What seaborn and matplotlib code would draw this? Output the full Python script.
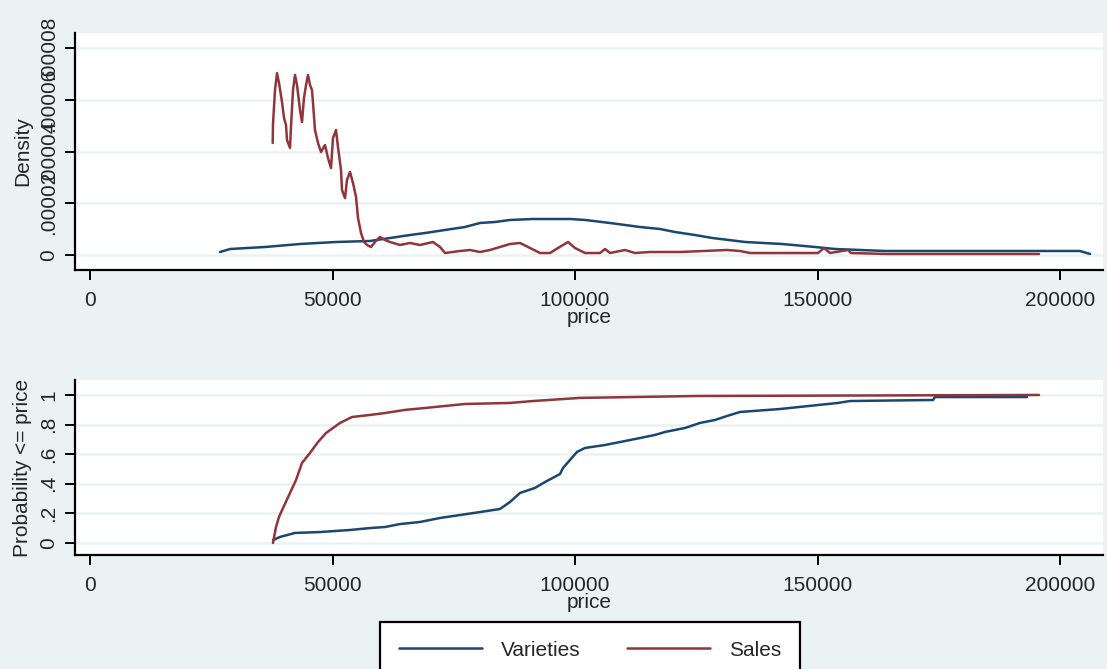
import matplotlib
matplotlib.use("Agg")
import matplotlib.pyplot as plt
import seaborn as sns
import pandas as pd
import numpy as np
from matplotlib.lines import Line2D

# ---------------- data ----------------
series_names = ["Varieties", "Sales"]
series_colors = ["#1a476f", "#90353b"]

# Kernel density, Varieties
dens_var_price = [26800, 28900, 36100, 43300, 50700, 57700, 61900, 66000, 69100, 73200,
                  77300, 80400, 83500, 86600, 91300, 99000, 102100, 107200, 110300, 113400,
                  117500, 120600, 124700, 128300, 135100, 142700, 149500, 153600, 163900,
                  204100, 206200]
dens_var_value = [1.16e-6, 2.32e-6, 3.09e-6, 4.25e-6, 5.02e-6, 5.41e-6, 6.57e-6, 7.73e-6, 8.50e-6, 9.66e-6,
                  1.082e-5, 1.237e-5, 1.275e-5, 1.353e-5, 1.391e-5, 1.391e-5, 1.353e-5, 1.237e-5, 1.160e-5, 1.082e-5,
                  1.005e-5, 8.89e-6, 7.73e-6, 6.57e-6, 5.02e-6, 4.25e-6, 3.09e-6, 2.32e-6, 1.55e-6,
                  1.55e-6, 3.9e-7]

# Kernel density, Sales
dens_sales_price = [37670, 37730, 38145, 38558, 38970, 39590, 40000, 40410, 40620, 41240,
                    41440, 41860, 42270, 42680, 43300, 43710, 44120, 44540, 44950, 45360,
                    45770, 45980, 46390, 47010, 47630, 48450, 49070, 49690, 50100, 50720,
                    51130, 51750, 51960, 52580, 52990, 53610, 54230, 54850, 55260, 55880,
                    56500, 57110, 57940, 58760, 59790, 60830, 61860, 63920, 65980, 68040,
                    70720, 72170, 73200, 76290, 78350, 80410, 82480, 84540, 86600, 88660,
                    90720, 92790, 94850, 96500, 98560, 100000, 102060, 105160, 106190, 107220,
                    110310, 112370, 115460, 121650, 131340, 134020, 136090, 150110, 151340, 152580,
                    156290, 156910, 164330, 195670]
dens_sales_value = [4.33e-5, 5.06e-5, 6.38e-5, 7.03e-5, 6.65e-5, 5.91e-5, 5.30e-5, 5.02e-5, 4.44e-5, 4.14e-5,
                    4.95e-5, 6.38e-5, 6.96e-5, 6.57e-5, 5.60e-5, 5.14e-5, 6.07e-5, 6.57e-5, 6.96e-5, 6.57e-5,
                    6.38e-5, 5.87e-5, 4.83e-5, 4.33e-5, 3.98e-5, 4.25e-5, 3.75e-5, 3.36e-5, 4.52e-5, 4.83e-5,
                    4.17e-5, 3.29e-5, 2.51e-5, 2.20e-5, 2.90e-5, 3.21e-5, 2.78e-5, 2.24e-5, 1.43e-5, 8.50e-6,
                    5.02e-6, 3.87e-6, 3.09e-6, 5.02e-6, 6.96e-6, 5.80e-6, 5.02e-6, 3.87e-6, 4.64e-6, 3.87e-6,
                    5.02e-6, 3.09e-6, 7.7e-7, 1.55e-6, 1.93e-6, 1.16e-6, 1.93e-6, 3.09e-6, 4.25e-6, 4.64e-6,
                    2.71e-6, 7.7e-7, 7.7e-7, 2.71e-6, 5.02e-6, 2.71e-6, 7.7e-7, 7.7e-7, 2.32e-6, 7.7e-7,
                    1.93e-6, 7.7e-7, 1.16e-6, 1.16e-6, 1.93e-6, 1.55e-6, 7.7e-7, 7.7e-7, 2.71e-6, 7.7e-7,
                    1.93e-6, 7.7e-7, 3.9e-7, 3.9e-7]

# Cumulative distribution, Varieties
cdf_var_price = [37730, 39180, 42270, 47420, 53610, 57730, 60830, 63920, 68040, 72170,
                 76290, 80410, 84540, 86600, 88660, 91750, 93820, 96910, 97530, 98970,
                 100410, 102060, 106190, 109280, 113400, 116500, 118560, 122680, 125780, 128870,
                 131340, 134020, 142270, 150110, 154230, 156700, 173820, 174230, 193200]
cdf_var_prob = [0.020, 0.041, 0.068, 0.074, 0.088, 0.101, 0.108, 0.128, 0.142, 0.169,
                0.189, 0.209, 0.230, 0.277, 0.338, 0.372, 0.412, 0.466, 0.507, 0.561,
                0.615, 0.642, 0.662, 0.682, 0.709, 0.730, 0.750, 0.777, 0.811, 0.831,
                0.858, 0.885, 0.905, 0.932, 0.946, 0.959, 0.966, 0.986, 0.986]

# Cumulative distribution, Sales
cdf_sales_price = [37730, 38350, 38970, 39790, 41240, 42480, 43710, 45360, 47010, 48660,
                   51550, 54020, 57730, 60830, 64950, 69070, 77320, 86600, 91340, 101030,
                   125160, 195670]
cdf_sales_prob = [0.0, 0.108, 0.176, 0.236, 0.338, 0.426, 0.541, 0.608, 0.682, 0.743,
                  0.811, 0.851, 0.865, 0.878, 0.899, 0.912, 0.939, 0.946, 0.959, 0.980,
                  0.993, 1.0]

x_ticks = [0, 50000, 100000, 150000, 200000]
dens_ticks = [0, 0.00002, 0.00004, 0.00006, 0.00008]
dens_tick_labels = ["0", ".00002", ".00004", ".00006", ".00008"]
prob_ticks = [0, 0.2, 0.4, 0.6, 0.8, 1.0]
prob_tick_labels = ["0", ".2", ".4", ".6", ".8", "1"]

# ---------------- frames ----------------
dens_df = pd.concat([
    pd.DataFrame({"price": dens_var_price, "value": dens_var_value, "series": series_names[0]}),
    pd.DataFrame({"price": dens_sales_price, "value": dens_sales_value, "series": series_names[1]}),
], ignore_index=True)
cdf_df = pd.concat([
    pd.DataFrame({"price": cdf_var_price, "value": cdf_var_prob, "series": series_names[0]}),
    pd.DataFrame({"price": cdf_sales_price, "value": cdf_sales_prob, "series": series_names[1]}),
], ignore_index=True)

# ---------------- figure ----------------
sns.set_theme(style="white")
plt.rcParams["font.family"] = ["Liberation Sans", "DejaVu Sans"]

BG = "#EAF2F3"
W, H = 1107, 669
fig = plt.figure(figsize=(W / 100, H / 100), dpi=100)
fig.patch.set_facecolor(BG)

ax1 = fig.add_axes([75 / W, 1 - 270 / H, 1028 / W, (270 - 33) / H])
ax2 = fig.add_axes([75 / W, 1 - 555 / H, 1028 / W, (555 - 380) / H])

palette = dict(zip(series_names, series_colors))

sns.lineplot(data=dens_df, x="price", y="value", hue="series", palette=palette,
             estimator=None, sort=False, ax=ax1, linewidth=1.8, legend=False)
sns.lineplot(data=cdf_df, x="price", y="value", hue="series", palette=palette,
             estimator=None, sort=False, ax=ax2, linewidth=1.8, legend=False)

FS = 15
for ax, yt, ytl, ylab, ylim in [
    (ax1, dens_ticks, dens_tick_labels, "Density", (-5.8e-6, 8.58e-5)),
    (ax2, prob_ticks, prob_tick_labels, "Probability <= price", (-0.081, 1.101)),
]:
    ax.set_facecolor("white")
    ax.set_xlim(-3093, 208866)
    ax.set_ylim(*ylim)
    ax.set_xticks(x_ticks)
    ax.set_xticklabels([str(v) for v in x_ticks], fontsize=FS)
    ax.set_yticks(yt)
    ax.set_yticklabels(ytl, fontsize=FS, rotation=90, va="center")
    ax.grid(axis="y", color=BG, linewidth=1.8)
    ax.grid(axis="x", visible=False)
    ax.set_axisbelow(True)
    for s in ["top", "right"]:
        ax.spines[s].set_visible(False)
    for s in ["left", "bottom"]:
        ax.spines[s].set_color("black")
        ax.spines[s].set_linewidth(1.6)
    ax.tick_params(axis="x", direction="out", length=7, width=1.4, color="black",
                   bottom=True, pad=8)
    ax.tick_params(axis="y", direction="out", length=7, width=1.4, color="black",
                   left=True, pad=5)
    ax.set_xlabel("price", fontsize=FS, labelpad=-1)
    ax.set_ylabel(ylab, fontsize=FS, labelpad=5)

handles = [Line2D([0], [0], color=c, linewidth=1.8) for c in series_colors]
leg = fig.legend(handles, series_names, loc="center",
                 bbox_to_anchor=(590 / W, 1 - 650 / H), ncol=2, frameon=True,
                 fancybox=False, edgecolor="black", facecolor="white", framealpha=1,
                 fontsize=FS, handlelength=4.0, handletextpad=0.9, columnspacing=2.2,
                 borderpad=0.9, borderaxespad=0)
leg.get_frame().set_linewidth(1.6)

fig.savefig("out.png", dpi=100, facecolor=BG)
